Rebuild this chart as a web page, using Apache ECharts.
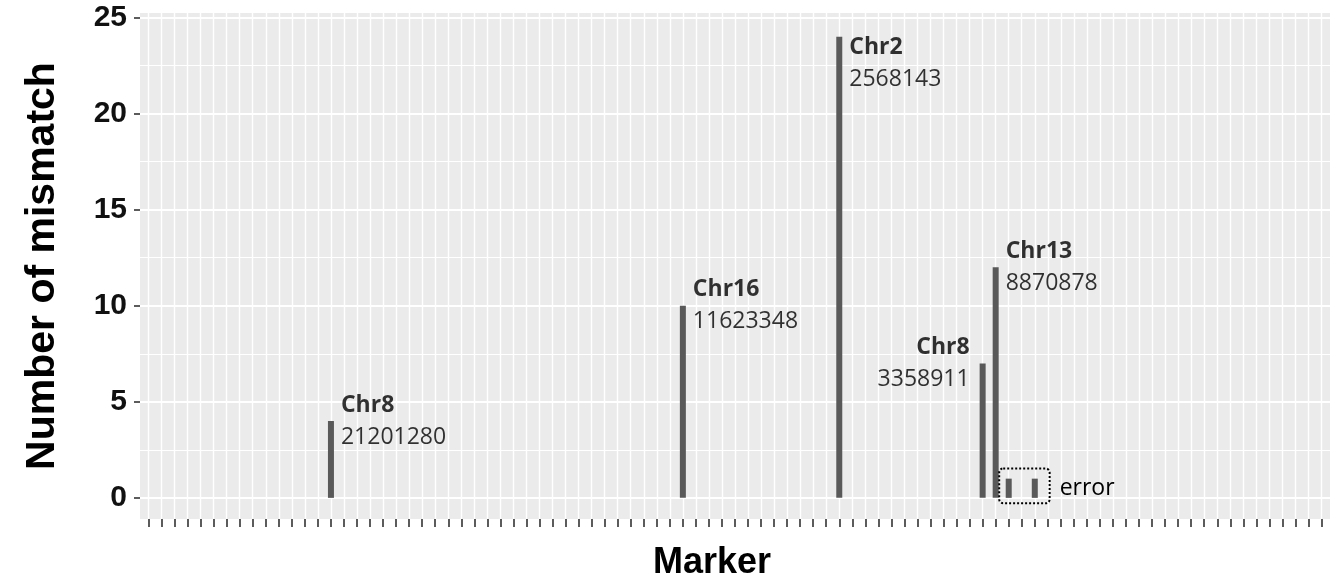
<!DOCTYPE html>
<html><head><meta charset="utf-8">
<script src="https://cdn.jsdelivr.net/npm/echarts@6/dist/echarts.min.js"></script>
<style>html,body{margin:0;padding:0;background:#fff}#c{width:1333px;height:586px}</style>
</head><body><div id="c"></div>
<script>
// ---- data ----
const markers = Array.from({length: 91}, (_, i) => 'M' + (i + 1));
const mismatch = [
  0,0,0,0,0,0,0,0,0,0,
  0,0,0,0,4,0,0,0,0,0,
  0,0,0,0,0,0,0,0,0,0,
  0,0,0,0,0,0,0,0,0,0,
  0,10,0,0,0,0,0,0,0,0,
  0,0,0,24,0,0,0,0,0,0,
  0,0,0,0,7,12,1,0,1,0,
  0,0,0,0,0,0,0,0,0,0,
  0,0,0,0,0,0,0,0,0,0,
  0
];
const yTicks = [0, 5, 10, 15, 20, 25];
const yMinor = [2.5, 7.5, 12.5, 17.5, 22.5];
const labelMarkers = [14, 41, 53, 64, 65];
const labelChr = ['Chr8', 'Chr16', 'Chr2', 'Chr8', 'Chr13'];
const labelPos = ['21201280', '11623348', '2568143', '3358911', '8870878'];
const errorMarkers = [66, 68];
const errorText = 'error';

// ---- layout / style ----
const X_MIN = -0.65, X_MAX = 90.65, Y_MIN = -1.1, Y_MAX = 25.24;
const labelSide = ['right', 'right', 'right', 'left', 'right'];
const labelOffset = [[0, 0], [0, 0], [0, 27], [0, 0], [0, 0]];
const txtFont = '"Open Sans", "Noto Sans", sans-serif';
const axFont = '"Liberation Sans", Arial, sans-serif';

const chart = echarts.init(document.getElementById('c'), null, {renderer: 'canvas'});
const tickIdx = markers.map((_, i) => i);

const option = {
  animation: false,
  grid: {left: 140, right: 3, top: 13, bottom: 64, show: true, backgroundColor: '#EBEBEB', borderWidth: 0},
  xAxis: [{
    type: 'value', min: X_MIN, max: X_MAX, position: 'bottom',
    axisLine: {show: false, onZero: false},
    axisTick: {show: true, length: 8, customValues: tickIdx, lineStyle: {color: '#333', width: 1.6}},
    axisLabel: {show: false},
    splitLine: {show: true, lineStyle: {color: '#fff', width: 1.4}},
    name: 'Marker', nameLocation: 'middle', nameGap: 26,
    nameTextStyle: {fontFamily: axFont, fontWeight: 'bold', fontSize: 36, color: '#000', padding: [0, 46, 0, 0]}
  }],
  yAxis: [{
    type: 'value', min: Y_MIN, max: Y_MAX, position: 'left',
    axisLine: {show: false, onZero: false},
    axisTick: {show: true, length: 6, customValues: yTicks, lineStyle: {color: '#333', width: 1.6}},
    axisLabel: {customValues: yTicks, fontFamily: axFont, fontWeight: 'bold', fontSize: 30, color: '#111', margin: 13},
    splitLine: {show: true, lineStyle: {color: '#fff', width: 1.8}},
    name: 'Number of mismatch', nameLocation: 'middle', nameGap: 77,
    nameTextStyle: {fontFamily: axFont, fontWeight: 'bold', fontSize: 41, color: '#000'}
  }, {
    type: 'value', min: Y_MIN, max: Y_MAX, position: 'right',
    axisLine: {show: false, onZero: false},
    axisTick: {show: false, customValues: yMinor},
    axisLabel: {show: false},
    splitLine: {show: true, lineStyle: {color: '#fff', width: 1.1}}
  }],
  series: [{
    type: 'bar', xAxisIndex: 0, yAxisIndex: 0,
    data: mismatch.map((v, i) => [i, v]),
    barWidth: 6,
    itemStyle: {color: '#595959'}
  }, {
    type: 'scatter', xAxisIndex: 0, yAxisIndex: 0, symbolSize: 0, silent: true,
    data: labelMarkers.map((m, k) => ({
      value: [m, mismatch[m]],
      label: {
        show: true, position: labelSide[k], distance: labelSide[k] === 'left' ? 13 : 10,
        offset: labelOffset[k], color: '#000',
        formatter: '{b|' + labelChr[k] + '}\n{n|' + labelPos[k] + '}',
        rich: {
          b: {fontFamily: txtFont, fontWeight: 'bold', fontSize: 23, lineHeight: 32, color: '#000'},
          n: {fontFamily: txtFont, fontSize: 23, lineHeight: 32, color: '#000'}
        }
      }
    }))
  }]
};
chart.setOption(option);

// error annotation box drawn from the axis scales
const eX0 = errorMarkers[0] - 0.73, eX1 = errorMarkers[errorMarkers.length - 1] + 1.14;
const eY0 = -0.28, eY1 = mismatch[errorMarkers[0]] + 0.53;
const pA = chart.convertToPixel({xAxisIndex: 0, yAxisIndex: 0}, [eX0, eY1]);
const pB = chart.convertToPixel({xAxisIndex: 0, yAxisIndex: 0}, [eX1, eY0]);
const pT = chart.convertToPixel({xAxisIndex: 0, yAxisIndex: 0}, [eX1, mismatch[errorMarkers[0]] / 2]);
chart.setOption({
  graphic: [{
    type: 'rect', z: 100,
    shape: {x: pA[0], y: pA[1], width: pB[0] - pA[0], height: pB[1] - pA[1], r: 4},
    style: {fill: 'none', stroke: '#000', lineWidth: 2, lineDash: [2, 2]}
  }, {
    type: 'text', z: 100, x: pT[0] + 10, y: pT[1],
    style: {text: errorText, font: '23px ' + txtFont, fill: '#000', verticalAlign: 'middle', align: 'left'}
  }]
});
</script></body></html>
